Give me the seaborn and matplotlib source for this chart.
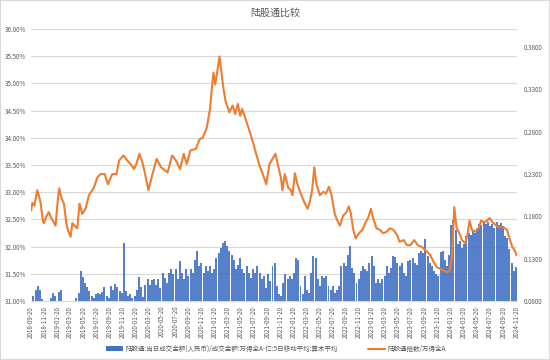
import numpy as np
import pandas as pd
import matplotlib
matplotlib.use('Agg')
import matplotlib.pyplot as plt
import matplotlib.dates as mdates
from matplotlib.patches import Patch, Rectangle
from matplotlib.lines import Line2D
import seaborn as sns

sns.set_theme(style='white')
plt.rcParams['font.family'] = ['Noto Sans CJK SC', 'DejaVu Sans']
plt.rcParams['axes.unicode_minus'] = False

title = '陆股通比较'
bar_label = '陆股通:当日成交金额(人民币)/成交金额:万得全A-亿:5日移动平均:算术平均'
line_label = '陆股通指数/万得全A'

# bar series: one value every 10 days starting at bar_start (in %)
bar_start = '2018-09-20'
bar_step_days = 10
bar_values = [
    31.00, 31.10, 31.21, 31.27, 31.20, 31.03, 31.00, 31.00, 31.00, 31.05,
    31.15, 31.10, 31.00, 31.17, 31.21, 31.00, 31.00, 31.00, 31.00, 31.00,
    31.00, 31.05, 31.15, 31.55, 31.45, 31.33, 31.25, 31.18, 31.10, 31.06,
    31.12, 31.15, 31.13, 31.17, 31.26, 31.10, 31.05, 31.27, 31.20, 31.32,
    31.25, 31.18, 31.15, 32.07, 31.18, 31.10, 31.12, 31.05, 31.10, 31.20,
    31.45, 31.25, 31.08, 31.30, 31.40, 31.30, 31.38, 31.40, 31.30, 31.40,
    31.24, 31.52, 31.43, 31.34, 31.52, 31.58, 31.49, 31.58, 31.40, 31.73,
    31.52, 31.40, 31.58, 31.46, 31.58, 31.52, 31.76, 31.92, 31.64, 31.70,
    31.52, 31.64, 31.55, 31.64, 31.52, 31.58, 31.79, 31.89, 31.98, 32.07,
    32.10, 32.01, 31.92, 31.85, 31.76, 31.58, 31.67, 31.79, 31.58, 31.52,
    31.64, 31.52, 31.43, 31.58, 31.52, 31.64, 31.52, 31.40, 31.46, 31.24,
    31.49, 31.37, 31.64, 31.70, 31.27, 31.12, 31.09, 31.34, 31.49, 31.40,
    31.46, 31.40, 31.52, 31.79, 31.76, 31.27, 31.12, 31.46, 31.21, 31.15,
    31.52, 31.82, 31.79, 31.40, 31.27, 31.46, 31.43, 31.46, 31.27, 31.21,
    31.27, 31.15, 31.21, 31.27, 31.64, 31.70, 31.64, 31.85, 32.01, 31.61,
    31.52, 31.34, 31.40, 31.55, 31.64, 31.58, 31.55, 31.70, 31.82, 31.64,
    31.34, 31.40, 31.34, 31.40, 31.46, 31.64, 31.52, 31.61, 31.82, 31.80,
    31.70, 31.64, 31.70, 31.52, 31.46, 31.73, 31.76, 31.79, 31.70, 31.67,
    31.88, 31.92, 31.88, 32.14, 31.82, 31.70, 31.64, 31.55, 31.49, 31.46,
    31.90, 31.92, 31.76, 31.64, 31.85, 32.40, 32.48, 32.30, 32.05, 32.10,
    31.98, 32.05, 32.20, 32.25, 32.22, 32.28, 32.25, 32.35, 32.42, 32.40,
    32.45, 32.42, 32.45, 32.38, 32.42, 32.35, 32.45, 32.40, 32.43, 32.38,
    32.20, 32.15, 31.95, 31.70, 31.55, 31.62, 31.85,
]

line_dates = [
    '2018-09-20', '2018-09-25', '2018-10-05', '2018-10-18', '2018-10-27', '2018-11-02', '2018-11-13', '2018-11-18', '2018-11-29', '2018-12-11',
    '2018-12-22', '2019-01-03', '2019-01-11', '2019-01-22', '2019-01-28', '2019-02-08', '2019-02-19', '2019-03-02', '2019-03-10', '2019-03-22',
    '2019-03-30', '2019-04-09', '2019-04-22', '2019-05-02', '2019-05-15', '2019-05-30', '2019-06-15', '2019-07-08', '2019-07-24', '2019-08-08',
    '2019-08-27', '2019-09-11', '2019-10-01', '2019-10-21', '2019-11-02', '2019-11-22', '2019-12-10', '2019-12-25', '2020-01-10', '2020-01-21',
    '2020-02-04', '2020-02-18', '2020-02-29', '2020-03-17', '2020-04-04', '2020-04-24', '2020-05-15', '2020-06-14', '2020-07-05', '2020-07-23',
    '2020-08-11', '2020-08-28', '2020-09-11', '2020-09-28', '2020-10-24', '2020-11-09', '2020-11-24', '2020-12-13', '2020-12-28', '2021-01-07',
    '2021-01-13', '2021-01-21', '2021-01-30', '2021-02-10', '2021-02-20', '2021-02-28', '2021-03-10', '2021-03-20', '2021-03-28', '2021-04-12',
    '2021-04-24', '2021-05-06', '2021-05-17', '2021-05-26', '2021-06-14', '2021-06-29', '2021-07-14', '2021-07-30', '2021-08-15', '2021-08-30',
    '2021-09-15', '2021-09-30', '2021-10-19', '2021-10-28', '2021-11-09', '2021-11-22', '2021-11-29', '2021-12-10', '2021-12-26', '2022-01-07',
    '2022-01-15', '2022-01-26', '2022-02-07', '2022-02-22', '2022-03-10', '2022-03-26', '2022-04-05', '2022-04-16', '2022-04-26', '2022-05-06',
    '2022-05-22', '2022-06-07', '2022-06-19', '2022-07-03', '2022-07-15', '2022-07-30', '2022-08-11', '2022-08-23', '2022-09-07', '2022-09-23',
    '2022-10-03', '2022-10-13', '2022-10-24', '2022-11-04', '2022-11-19', '2022-12-05', '2022-12-17', '2023-01-02', '2023-01-14', '2023-01-25',
    '2023-02-09', '2023-02-25', '2023-03-12', '2023-03-28', '2023-04-12', '2023-04-28', '2023-05-15', '2023-05-27', '2023-06-15', '2023-06-30',
    '2023-07-16', '2023-08-03', '2023-08-19', '2023-09-08', '2023-09-24', '2023-10-17', '2023-11-01', '2023-11-16', '2023-12-02', '2023-12-18',
    '2024-01-02', '2024-01-14', '2024-01-25', '2024-02-05', '2024-02-15', '2024-02-25', '2024-03-12', '2024-03-27', '2024-04-07', '2024-04-16',
    '2024-04-27', '2024-05-13', '2024-05-28', '2024-06-08', '2024-06-24', '2024-07-06', '2024-07-18', '2024-08-01', '2024-08-18', '2024-09-03',
    '2024-09-21', '2024-10-07', '2024-10-18', '2024-10-31', '2024-11-11', '2024-11-20',
]
line_values = [
    0.187, 0.196, 0.193, 0.211, 0.203, 0.197, 0.175, 0.172, 0.180, 0.185,
    0.178, 0.173, 0.169, 0.201, 0.213, 0.201, 0.195, 0.172, 0.163, 0.156,
    0.172, 0.169, 0.166, 0.195, 0.183, 0.189, 0.205, 0.214, 0.226, 0.230,
    0.230, 0.218, 0.230, 0.230, 0.246, 0.252, 0.246, 0.242, 0.236, 0.242,
    0.254, 0.244, 0.232, 0.211, 0.229, 0.248, 0.238, 0.232, 0.252, 0.246,
    0.236, 0.254, 0.242, 0.258, 0.260, 0.271, 0.273, 0.285, 0.307, 0.336,
    0.350, 0.336, 0.350, 0.369, 0.348, 0.332, 0.316, 0.309, 0.303, 0.311,
    0.301, 0.313, 0.299, 0.307, 0.293, 0.281, 0.269, 0.254, 0.240, 0.230,
    0.218, 0.242, 0.250, 0.254, 0.240, 0.226, 0.211, 0.230, 0.214, 0.211,
    0.205, 0.231, 0.218, 0.207, 0.197, 0.189, 0.197, 0.211, 0.238, 0.218,
    0.205, 0.209, 0.207, 0.215, 0.205, 0.183, 0.175, 0.169, 0.181, 0.185,
    0.192, 0.183, 0.164, 0.154, 0.160, 0.164, 0.171, 0.179, 0.189, 0.177,
    0.166, 0.164, 0.160, 0.162, 0.166, 0.164, 0.158, 0.150, 0.152, 0.146,
    0.146, 0.152, 0.146, 0.144, 0.140, 0.134, 0.126, 0.120, 0.118, 0.116,
    0.114, 0.116, 0.132, 0.191, 0.167, 0.162, 0.152, 0.148, 0.160, 0.175,
    0.164, 0.162, 0.166, 0.175, 0.173, 0.175, 0.178, 0.173, 0.169, 0.167,
    0.167, 0.164, 0.154, 0.144, 0.140, 0.134,
]

left_ticks = [31.0, 31.5, 32.0, 32.5, 33.0, 33.5, 34.0, 34.5, 35.0, 35.5, 36.0]
right_ticks = [0.08, 0.13, 0.18, 0.23, 0.28, 0.33, 0.38]

BAR_C = '#4472C4'
LINE_C = '#ED7D31'
TXT_C = '#595959'
GRID_C = '#D9D9D9'

bar_dates = pd.date_range(bar_start, periods=len(bar_values), freq=f'{bar_step_days}D')
bar_x = mdates.date2num(bar_dates)
line_x = mdates.date2num(pd.to_datetime(line_dates))

W, H = 550, 360
fig = plt.figure(figsize=(W / 100, H / 100), dpi=100)
ax = fig.add_axes([31 / W, 1 - 301 / H, (517 - 31) / W, (301 - 29) / H])

sns.barplot(x=bar_x, y=bar_values, native_scale=True, color=BAR_C, saturation=1,
            width=0.92, errorbar=None, ax=ax, edgecolor='none', linewidth=0, alpha=0.9)

ax.set_ylim(31, 36)
ax.set_yticks(left_ticks)
ax.set_yticklabels([f'{v:.2f}%' for v in left_ticks])
ax.grid(axis='y', color=GRID_C, lw=0.8)
ax.grid(axis='x', visible=False)
ax.set_axisbelow(True)
for s in ['top', 'left', 'right']:
    ax.spines[s].set_visible(False)
ax.spines['bottom'].set_color(GRID_C)
ax.spines['bottom'].set_linewidth(0.8)
ax.set_xlabel('')
ax.set_ylabel('')
ax.tick_params(axis='y', length=0, pad=3.5, labelsize=4.5, labelcolor=TXT_C)

ax2 = ax.twinx()
sns.lineplot(x=line_x, y=line_values, ax=ax2, color=LINE_C, linewidth=1.5)
ax2.set_ylim(0.08, 0.4015)
ax2.set_yticks(right_ticks)
ax2.set_yticklabels([f'{v:.4f}' for v in right_ticks])
ax2.grid(False)
for s in ['top', 'left', 'right', 'bottom']:
    ax2.spines[s].set_visible(False)
ax2.set_ylabel('')
ax2.tick_params(axis='y', length=0, pad=5, labelsize=4.5, labelcolor=TXT_C)

tick_dates = pd.date_range('2018-09-01', '2024-11-01', freq='2MS') + pd.Timedelta(days=19)
ax.set_xticks(mdates.date2num(tick_dates))
ax.set_xticklabels([d.strftime('%Y-%m-%d') for d in tick_dates], rotation=90)
ax.tick_params(axis='x', length=2, width=0.6, color=GRID_C, pad=1.5, labelsize=4.5, labelcolor=TXT_C)
ax.set_xlim(mdates.date2num(pd.Timestamp('2018-09-19')), mdates.date2num(pd.Timestamp('2024-11-22')))

fig.text(0.5, 1 - 13 / H, title, ha='center', va='center', fontsize=7.2, color=TXT_C)

handles = [Patch(facecolor=BAR_C, edgecolor='none'), Line2D([0], [0], color=LINE_C, lw=1.5)]
fig.legend(handles=handles, labels=[bar_label, line_label], loc='center',
           bbox_to_anchor=(276 / W, 1 - 349 / H), ncol=2, frameon=False, fontsize=4.7,
           handlelength=2.6, handleheight=0.7, columnspacing=4.5, handletextpad=0.5,
           labelcolor=TXT_C)

fig.patches.append(Rectangle((0, 0), 1, 1, transform=fig.transFigure, fill=False,
                             edgecolor=GRID_C, lw=1.5))

fig.savefig('out.png', dpi=100, facecolor='white')
